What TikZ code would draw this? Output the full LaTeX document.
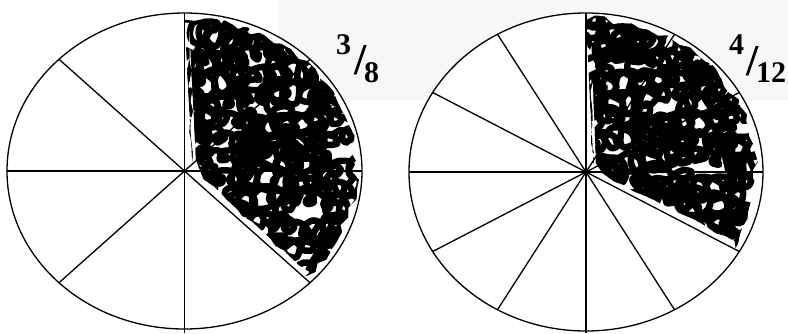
\documentclass[tikz,border=0pt]{standalone}
\usepackage{fontspec}
\setmainfont{Liberation Serif}
\begin{document}
\begin{tikzpicture}[x=1pt,y=-1pt,
  rim/.style={draw=black, line width=1.3pt, fill=white},
  spoke/.style={black, line width=1.3pt},
  scrib/.style={black, line width=6.5pt, line cap=round, line join=round},
  digit/.style={font=\fontsize{30}{30}\selectfont\bfseries, inner sep=0pt, anchor=base west},
  slashmark/.style={font=\fontsize{44}{44}\selectfont\bfseries, inner sep=0pt, anchor=base west}]
\useasboundingbox (0,0) rectangle (788,333);
\fill[black!3] (278,0) rectangle (788,100);
% centres
\coordinate (L) at (184.5,171);
\coordinate (R) at (586,172);
% ellipses
\draw[rim] (L) ellipse [x radius=177.5pt, y radius=158pt];
\draw[rim] (R) ellipse [x radius=177pt, y radius=159pt];
% spokes, left (eighths)
\coordinate (Ltop) at (184.5,13);
\coordinate (Lbot) at (184.5,333);
\draw[spoke] (Ltop) -- (Lbot);
\foreach \t [count=\i] in {0,45,135,180,225,315}{
  \coordinate (Lr\i) at ({184.5+177.5*cos(\t)},{171-158*sin(\t)});
  \draw[spoke] (L) -- (Lr\i);
}
% spokes, right (twelfths)
\coordinate (Rtop) at (586,13);
\coordinate (Rbot) at (586,333);
\draw[spoke] (Rtop) -- (Rbot);
\foreach \t [count=\i] in {0,30,60,120,150,180,210,240,300,330}{
  \coordinate (Rr\i) at ({586+177*cos(\t)},{172-159*sin(\t)});
  \draw[spoke] (R) -- (Rr\i);
}
% scribble, left 3/8
\begin{scope}
  \pgfmathsetseed{11}
  \clip plot[domain=90:-45, samples=40, variable=\a] ({184.5+(0.965+0.025*rand)*177.5*cos(\a)},{171-(0.965+0.025*rand)*158*sin(\a)})
     -- plot[domain=0.95:0.12, samples=14, variable=\s] ({184.5+\s*125.5+6*cos(45)+2*rand},{171+\s*111.7-6*sin(45)-2*rand})
     -- (196,160)
     -- plot[domain=0.9:0.05, samples=14, variable=\s] ({191+2*rand},{171-\s*158})
     -- cycle;
  \pgfmathsetseed{17}
  \foreach \yy in {14,35,...,300}{
    \pgfmathsetmacro\ph{360*rnd}
    \pgfmathsetmacro\pa{360*rnd}
    \pgfmathsetmacro\pb{360*rnd}
    \pgfmathsetmacro\xs{175+15*rnd}
    \draw[scrib] plot[smooth, domain=0:12, samples=96, variable=\t]
      ({\xs+16*\t+(10+3*sin(47*\t+\pa))*cos(360*\t+\ph)+2*rand},
       {\yy+7*sin(31*\t+\pb)+(9+3*sin(53*\t+\pa))*sin(360*\t+\ph)+2*rand});
  }
  \foreach \xx in {200,242,...,365}{
    \pgfmathsetmacro\ph{360*rnd}
    \pgfmathsetmacro\pa{360*rnd}
    \pgfmathsetmacro\pb{360*rnd}
    \pgfmathsetmacro\ys{5+15*rnd}
    \draw[scrib] plot[smooth, domain=0:16, samples=120, variable=\t]
      ({\xx+9*sin(37*\t+\pb)+(9+3*sin(41*\t+\pa))*sin(360*\t+\ph)+2*rand},
       {\ys+18*\t+(10+3*sin(59*\t+\pa))*cos(360*\t+\ph)+2*rand});
  }
\end{scope}
% scribble, right 4/12
\begin{scope}
  \pgfmathsetseed{23}
  \clip plot[domain=90:-30, samples=40, variable=\a] ({586+(0.965+0.025*rand)*177*cos(\a)},{172-(0.965+0.025*rand)*159*sin(\a)})
     -- plot[domain=0.95:0.1, samples=14, variable=\s] ({586+\s*153.3+6*sin(30)+2*rand},{172+\s*79.5-6*cos(30)-2*rand})
     -- (596,163)
     -- plot[domain=0.9:0.05, samples=14, variable=\s] ({592+2*rand},{172-\s*159})
     -- cycle;
  \pgfmathsetseed{29}
  \foreach \yy in {14,35,...,260}{
    \pgfmathsetmacro\ph{360*rnd}
    \pgfmathsetmacro\pa{360*rnd}
    \pgfmathsetmacro\pb{360*rnd}
    \pgfmathsetmacro\xs{577+15*rnd}
    \draw[scrib] plot[smooth, domain=0:12, samples=96, variable=\t]
      ({\xs+16*\t+(10+3*sin(47*\t+\pa))*cos(360*\t+\ph)+2*rand},
       {\yy+7*sin(31*\t+\pb)+(9+3*sin(53*\t+\pa))*sin(360*\t+\ph)+2*rand});
  }
  \foreach \xx in {602,644,...,765}{
    \pgfmathsetmacro\ph{360*rnd}
    \pgfmathsetmacro\pa{360*rnd}
    \pgfmathsetmacro\pb{360*rnd}
    \pgfmathsetmacro\ys{5+15*rnd}
    \draw[scrib] plot[smooth, domain=0:14, samples=110, variable=\t]
      ({\xx+9*sin(37*\t+\pb)+(9+3*sin(41*\t+\pa))*sin(360*\t+\ph)+2*rand},
       {\ys+18*\t+(10+3*sin(59*\t+\pa))*cos(360*\t+\ph)+2*rand});
  }
\end{scope}
% labels
\node[digit] (n3) at (336,54.5) {3};
\node[slashmark] (s1) at (354,74) {/};
\node[digit] (d8) at (364,82) {8};
\node[digit] (n4) at (729,54) {4};
\node[slashmark] (s2) at (746,75) {/};
\node[digit] (d12) at (756,82.5) {12};
\end{tikzpicture}
\end{document}
